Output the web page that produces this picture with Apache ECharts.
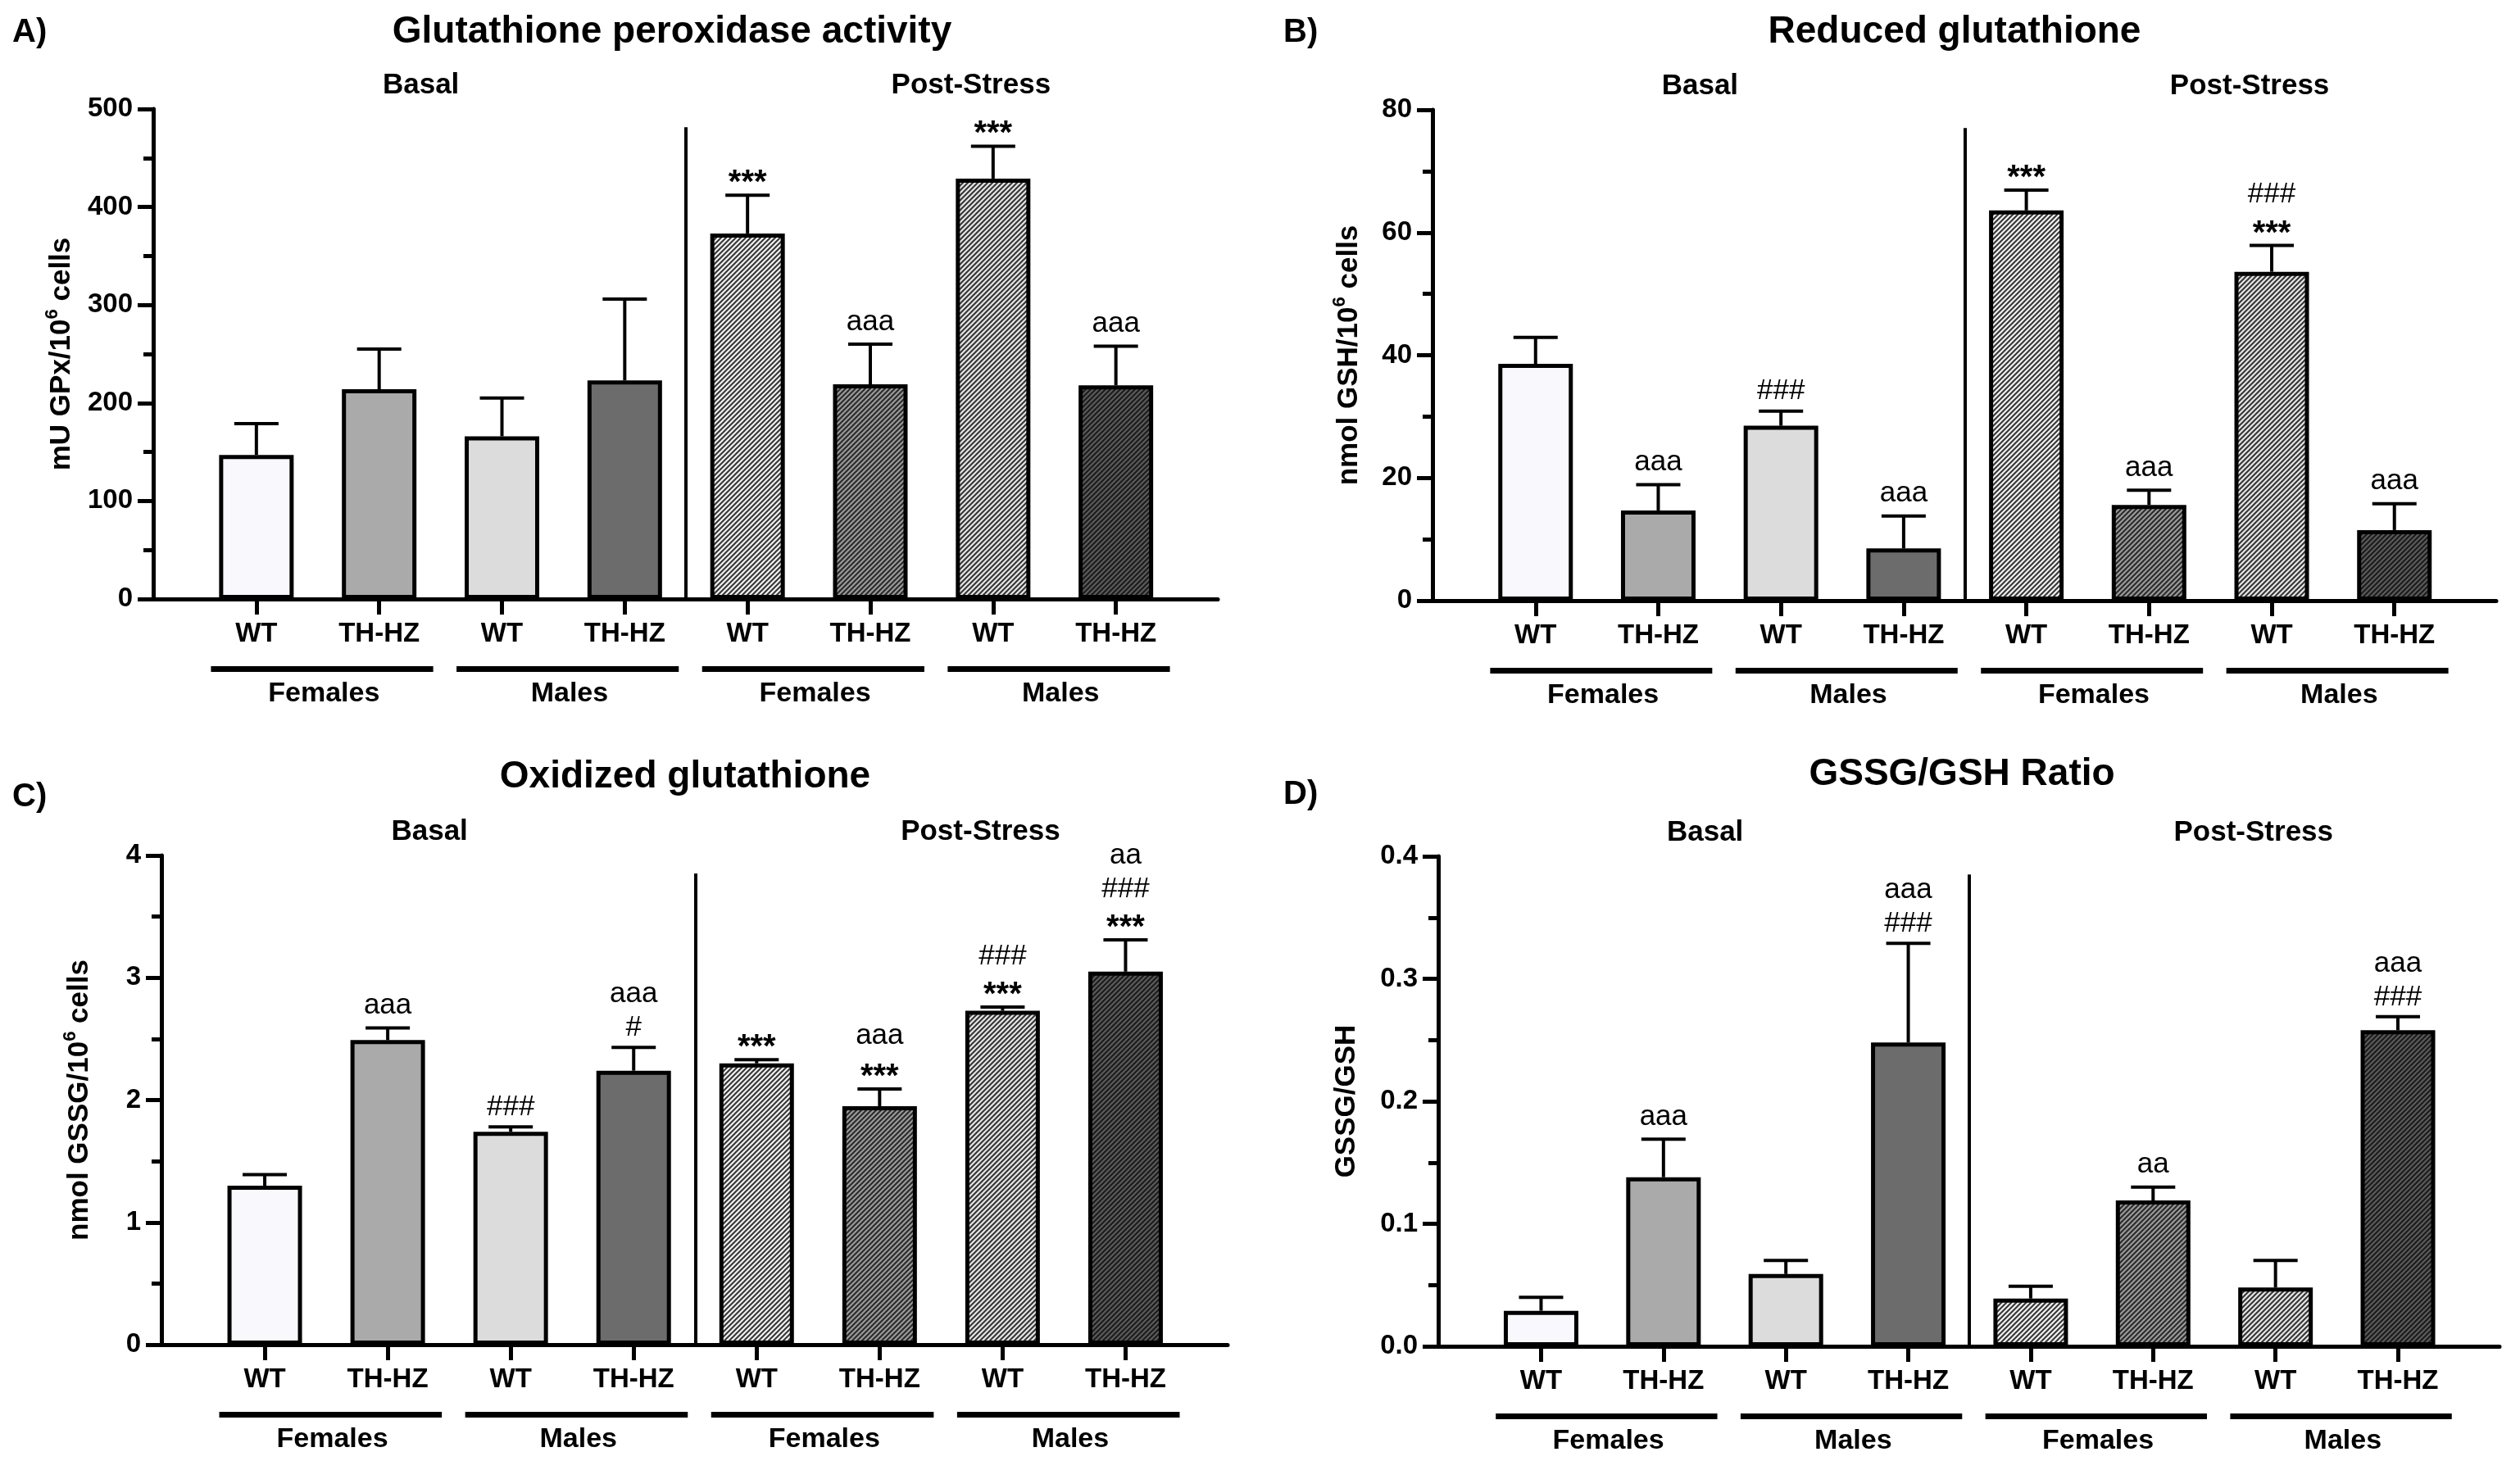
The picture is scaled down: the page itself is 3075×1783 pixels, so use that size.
<!DOCTYPE html>
<html>
<head>
<meta charset="utf-8">
<script src="https://cdn.jsdelivr.net/npm/echarts@6/dist/echarts.min.js"></script>
<style>
html, body {margin: 0; padding: 0; background: #fff;}
#main {width: 3075px; height: 1783px;}
</style>
</head>
<body>
<div id="main"></div>
<script>
// categories
var genotypes = ['WT', 'TH-HZ', 'WT', 'TH-HZ', 'WT', 'TH-HZ', 'WT', 'TH-HZ'];
var sexes = ['Females', 'Males', 'Females', 'Males'];
var conditions = ['Basal', 'Post-Stress'];

// A) glutathione peroxidase activity
var gpxMean = [147, 214, 166, 223, 373, 219, 429, 218];
var gpxErr = [32, 41, 39, 83, 39, 41, 33, 40];
var gpxSig = ['', '', '', '', '***', 'aaa', '***', 'aaa'];

// B) reduced glutathione
var gshMean = [38.6, 14.7, 28.5, 8.5, 63.6, 15.6, 53.6, 11.5];
var gshErr = [4.3, 4.2, 2.4, 5.3, 3.3, 2.4, 4.3, 4.3];
var gshSig = ['', 'aaa', '###', 'aaa', '***', 'aaa', '###\n***', 'aaa'];

// C) oxidized glutathione
var gssgMean = [1.30, 2.49, 1.74, 2.24, 2.30, 1.95, 2.73, 3.05];
var gssgErr = [0.09, 0.10, 0.04, 0.19, 0.03, 0.14, 0.03, 0.26];
var gssgSig = ['', 'aaa', '###', 'aaa\n#', '***', 'aaa\n***', '###\n***', 'aa\n###\n***'];

// D) GSSG/GSH ratio
var ratioMean = [0.029, 0.138, 0.059, 0.248, 0.039, 0.119, 0.048, 0.258];
var ratioErr = [0.011, 0.031, 0.011, 0.081, 0.010, 0.011, 0.022, 0.011];
var ratioSig = ['', 'aaa', '', 'aaa\n###', '', 'aa', '', 'aaa\n###'];

var FONT = '"Liberation Sans", Arial, Helvetica, sans-serif';

function hatch(bg, fg) {
    var c = document.createElement('canvas');
    c.width = 6;
    c.height = 6;
    var ctx = c.getContext('2d');
    ctx.fillStyle = bg;
    ctx.fillRect(0, 0, 6, 6);
    ctx.strokeStyle = fg;
    ctx.lineWidth = 2.2;
    ctx.beginPath();
    [-6, 0, 6].forEach(function (k) {
        ctx.moveTo(k - 1, 7);
        ctx.lineTo(k + 7, -1);
    });
    ctx.stroke();
    return {image: c, repeat: 'repeat'};
}

var fills = [
    '#f8f8fd', '#aaaaaa', '#dcdcdc', '#6c6c6c',
    hatch('#f4f4f4', '#3a3a3a'), hatch('#9c9c9c', '#2c2c2c'),
    hatch('#e8e8e8', '#383838'), hatch('#5c5c5c', '#1c1c1c')
];

var panels = [
    {letter: 'A)', title: 'Glutathione peroxidase activity', yName: '{n|mU GPx/10}{s|6}{n| cells}',
        mean: gpxMean, err: gpxErr, sig: gpxSig, max: 500, interval: 100, digits: 0,
        left: 187, top: 133, width: 1299, height: 598, nameGap: 90,
        letterPos: [15, 40], titlePos: [820, 39]},
    {letter: 'B)', title: 'Reduced glutathione', yName: '{n|nmol GSH/10}{s|6}{n| cells}',
        mean: gshMean, err: gshErr, sig: gshSig, max: 80, interval: 20, digits: 0,
        left: 1748, top: 134, width: 1298, height: 599, nameGap: 80,
        letterPos: [1566, 40], titlePos: [2385, 39]},
    {letter: 'C)', title: 'Oxidized glutathione', yName: '{n|nmol GSSG/10}{s|6}{n| cells}',
        mean: gssgMean, err: gssgErr, sig: gssgSig, max: 4, interval: 1, digits: 0,
        left: 197, top: 1044, width: 1301, height: 597, nameGap: 78,
        letterPos: [15, 973], titlePos: [836, 948]},
    {letter: 'D)', title: 'GSSG/GSH Ratio', yName: '{n|GSSG/GSH}',
        mean: ratioMean, err: ratioErr, sig: ratioSig, max: 0.4, interval: 0.1, digits: 1,
        left: 1755, top: 1045, width: 1295, height: 598, nameGap: 90,
        letterPos: [1566, 970], titlePos: [2394, 945]}
];

var ticks = [0, 1, 2, 3, 4, 5, 6, 7];
var groupCenters = [0.5, 2.5, 4.5, 6.5];
var headerPos = [1.34, 5.82];

var grids = [], xAxes = [], yAxes = [], series = [], graphics = [];

panels.forEach(function (p, k) {
    grids.push({left: p.left, top: p.top, width: p.width, height: p.height});
    xAxes.push({
        type: 'value', gridIndex: k, min: -0.84, max: 7.83,
        axisLine: {show: true, onZero: false, lineStyle: {color: '#000', width: 5}},
        axisTick: {show: true, customValues: ticks, length: 19, lineStyle: {color: '#000', width: 5}},
        axisLabel: {
            customValues: ticks, margin: 26, color: '#000', fontSize: 33, fontWeight: 'bold', fontFamily: FONT,
            formatter: function (v) { return genotypes[Math.round(v)]; }
        },
        splitLine: {show: false}
    });
    yAxes.push({
        type: 'value', gridIndex: k, min: 0, max: p.max, interval: p.interval,
        axisLine: {show: true, onZero: false, lineStyle: {color: '#000', width: 5}},
        axisTick: {show: true, length: 19, lineStyle: {color: '#000', width: 5}},
        minorTick: {show: true, splitNumber: 2, length: 12, lineStyle: {color: '#000', width: 5}},
        axisLabel: {
            margin: 25, color: '#000', fontSize: 33, fontWeight: 'bold', fontFamily: FONT,
            formatter: function (v) { return v.toFixed(p.digits); }
        },
        splitLine: {show: false},
        name: p.yName, nameLocation: 'middle', nameRotate: 90, nameGap: p.nameGap,
        nameTextStyle: {
            color: '#000', fontFamily: FONT,
            rich: {
                n: {fontSize: 35, fontWeight: 'bold', fontFamily: FONT, color: '#000', lineHeight: 44},
                s: {fontSize: 22, fontWeight: 'bold', fontFamily: FONT, color: '#000', lineHeight: 22, verticalAlign: 'top'}
            }
        }
    });

    series.push({
        type: 'bar', xAxisIndex: k, yAxisIndex: k, barWidth: 91, z: 2,
        itemStyle: {borderColor: '#000', borderWidth: 5},
        data: p.mean.map(function (v, i) {
            return {value: [i, v], itemStyle: {color: fills[i]}};
        }),
        markLine: {
            silent: true, symbol: 'none', label: {show: false},
            lineStyle: {color: '#000', width: 4, type: 'solid'},
            data: [[{coord: [3.5, 0]}, {coord: [3.5, p.max * 0.963]}]]
        }
    });

    // error bars + significance marks
    series.push({
        type: 'custom', xAxisIndex: k, yAxisIndex: k, z: 3, silent: true,
        data: p.mean.map(function (v, i) { return [i, v, v + p.err[i]]; }),
        renderItem: function (params, api) {
            var base = api.coord([api.value(0), api.value(1)]);
            var top = api.coord([api.value(0), api.value(2)]);
            var children = [
                {type: 'line', shape: {x1: base[0], y1: base[1], x2: top[0], y2: top[1]}, style: {stroke: '#000', lineWidth: 4}},
                {type: 'line', shape: {x1: top[0] - 27, y1: top[1], x2: top[0] + 27, y2: top[1]}, style: {stroke: '#000', lineWidth: 4}}
            ];
            var s = p.sig[params.dataIndex];
            var lines = s ? s.split('\n').reverse() : [];
            lines.forEach(function (t, j) {
                var star = t.indexOf('*') >= 0;
                var corr = star ? 10 : (t.indexOf('a') >= 0 ? -3 : 0);
                children.push({
                    type: 'text',
                    style: {
                        text: t, x: top[0], y: top[1] - 24 - 38 * j + corr,
                        align: 'center', verticalAlign: 'middle', fill: '#000',
                        font: (star ? 'bold 40px ' : '35px ') + FONT
                    }
                });
            });
            return {type: 'group', children: children};
        }
    });

    // sex group underlines and labels
    series.push({
        type: 'custom', xAxisIndex: k, yAxisIndex: k, silent: true,
        data: groupCenters.map(function (c) { return [c, 0]; }),
        renderItem: function (params, api) {
            var c = api.value(0);
            var a = api.coord([c - 0.87, 0]);
            var b = api.coord([c + 0.94, 0]);
            var m = api.coord([c + 0.05, 0]);
            return {type: 'group', children: [
                {type: 'rect', shape: {x: a[0], y: a[1] + 82, width: b[0] - a[0], height: 7}, style: {fill: '#000'}},
                {type: 'text', style: {
                    text: sexes[params.dataIndex], x: m[0], y: a[1] + 116,
                    align: 'center', verticalAlign: 'middle', fill: '#000', font: 'bold 34px ' + FONT
                }}
            ]};
        }
    });

    // condition headers
    series.push({
        type: 'custom', xAxisIndex: k, yAxisIndex: k, silent: true,
        data: headerPos.map(function (c) { return [c, p.max]; }),
        renderItem: function (params, api) {
            var pt = api.coord([api.value(0), api.value(1)]);
            return {type: 'text', style: {
                text: conditions[params.dataIndex], x: pt[0], y: pt[1] - 29,
                align: 'center', verticalAlign: 'middle', fill: '#000', font: 'bold 35px ' + FONT
            }};
        }
    });

    graphics.push({
        type: 'text', x: p.letterPos[0], y: p.letterPos[1],
        style: {text: p.letter, align: 'left', verticalAlign: 'middle', fill: '#000', font: 'bold 40px ' + FONT}
    });
    graphics.push({
        type: 'text', x: p.titlePos[0], y: p.titlePos[1],
        style: {text: p.title, align: 'center', verticalAlign: 'middle', fill: '#000', font: 'bold 46px ' + FONT}
    });
});

var chart = echarts.init(document.getElementById('main'), null, {renderer: 'canvas'});
chart.setOption({
    backgroundColor: '#fff',
    animation: false,
    grid: grids,
    xAxis: xAxes,
    yAxis: yAxes,
    series: series,
    graphic: graphics
});
</script>
</body>
</html>
